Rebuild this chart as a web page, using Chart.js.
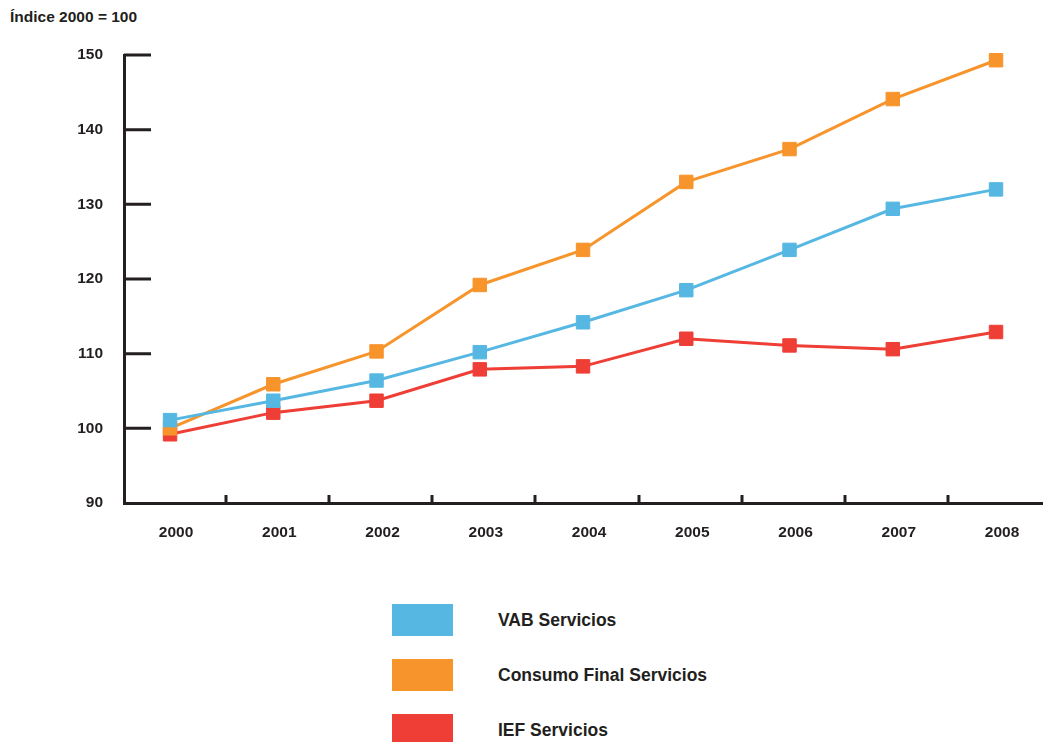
<!DOCTYPE html>
<html lang="es">
<head>
<meta charset="UTF-8">
<title>Índice 2000 = 100</title>
<script src="https://cdn.jsdelivr.net/npm/chart.js@4.4.0/dist/chart.umd.min.js"></script>
<style>
  body { margin: 0; background: #fff; font-family: "Liberation Sans", Arial, sans-serif; color: #231f20; }
  #wrap { position: relative; width: 1043px; height: 742px; overflow: hidden; }
  #title { position: absolute; left: 10px; top: 8px; font-size: 15.5px; font-weight: bold; }
  #chartBox { position: absolute; left: 0; top: 0; width: 1043px; height: 561px; }
  #legend { position: absolute; left: 392px; top: 604px; }
  .item { position: relative; height: 55px; }
  .swatch { position: absolute; left: 0; top: 0; width: 61px; height: 32px; }
  .label { position: absolute; left: 106px; top: 6px; font-size: 17.5px; font-weight: bold; white-space: nowrap; }
</style>
</head>
<body>
<div id="wrap">
  <div id="title">Índice 2000 = 100</div>
  <div id="chartBox"><canvas id="chart"></canvas></div>
  <div id="legend"></div>
</div>
<script>
// data
const years = ['2000', '2001', '2002', '2003', '2004', '2005', '2006', '2007', '2008'];
const vabServicios = [101.1, 103.7, 106.4, 110.2, 114.2, 118.5, 123.9, 129.4, 132.0];
const consumoFinal = [100.0, 105.9, 110.3, 119.2, 123.9, 133.0, 137.4, 144.1, 149.3];
const iefServicios = [99.2, 102.1, 103.7, 107.9, 108.3, 112.0, 111.1, 110.6, 112.9];
const yTicks = [90, 100, 110, 120, 130, 140, 150];

const seriesNames = ['VAB Servicios', 'Consumo Final Servicios', 'IEF Servicios'];
const seriesColors = ['#56b8e2', '#f7942b', '#ee3e36'];
const seriesData = [vabServicios, consumoFinal, iefServicios];

const ink = '#231f20';
const tickFont = { family: '"Liberation Sans", Arial, sans-serif', size: 15.5, weight: 'bold' };

// tick marks pointing into the plot, like the original
const innerTicks = {
  id: 'innerTicks',
  afterDraw(chart) {
    const ctx = chart.ctx;
    const x = chart.scales.x, y = chart.scales.y;
    ctx.save();
    ctx.strokeStyle = ink;
    ctx.lineWidth = 3;
    ctx.beginPath();
    yTicks.forEach(v => {
      if (v === yTicks[0]) return;
      const py = y.getPixelForValue(v);
      ctx.moveTo(x.left, py);
      ctx.lineTo(x.left + 27, py);
    });
    for (let i = 1; i < years.length; i++) {
      const px = Math.round(x.getPixelForValue(i - 0.5)) + 4;
      ctx.moveTo(px, y.bottom);
      ctx.lineTo(px, y.bottom - 8);
    }
    ctx.stroke();
    ctx.restore();
  }
};

const datasets = seriesData.map((d, i) => ({
  label: seriesNames[i],
  data: d.map((v, j) => ({ x: j, y: v })),
  borderColor: seriesColors[i],
  backgroundColor: seriesColors[i],
  pointBackgroundColor: seriesColors[i],
  pointBorderColor: seriesColors[i],
  borderWidth: 3,
  pointStyle: 'rect',
  pointRadius: 9.5,
  pointBorderWidth: 1,
  tension: 0,
  clip: false
}));

const chart = new Chart(document.getElementById('chart'), {
  type: 'line',
  data: { datasets: datasets },
  options: {
    responsive: true,
    maintainAspectRatio: false,
    animation: false,
    layout: { autoPadding: false, padding: { top: 55, right: 0, left: 0, bottom: 0 } },
    plugins: { legend: { display: false }, tooltip: { enabled: false } },
    scales: {
      x: {
        type: 'linear',
        min: -0.446,
        max: 8.455,
        afterBuildTicks(s) { s.ticks = years.map((_, j) => ({ value: j })); },
        grid: { display: false, drawTicks: false },
        border: { display: true, color: ink, width: 3 },
        ticks: {
          color: ink, font: tickFont, padding: 20, maxRotation: 0, labelOffset: 6,
          callback: (v) => years[v]
        },
        afterFit(s) { s.height = 58; }
      },
      y: {
        min: 90,
        max: 150,
        afterBuildTicks(s) { s.ticks = yTicks.map(v => ({ value: v })); },
        grid: { display: false, drawTicks: false },
        border: { display: true, color: ink, width: 3 },
        ticks: { color: ink, font: tickFont, padding: 21 },
        afterFit(s) { s.width = 124; }
      }
    }
  },
  plugins: [innerTicks]
});

// legend from the same series
const legend = document.getElementById('legend');
seriesNames.forEach((name, i) => {
  const item = document.createElement('div');
  item.className = 'item';
  item.innerHTML = '<div class="swatch" style="background:' + seriesColors[i] + '"></div>' +
                   '<div class="label">' + name + '</div>';
  legend.appendChild(item);
});
</script>
</body>
</html>
